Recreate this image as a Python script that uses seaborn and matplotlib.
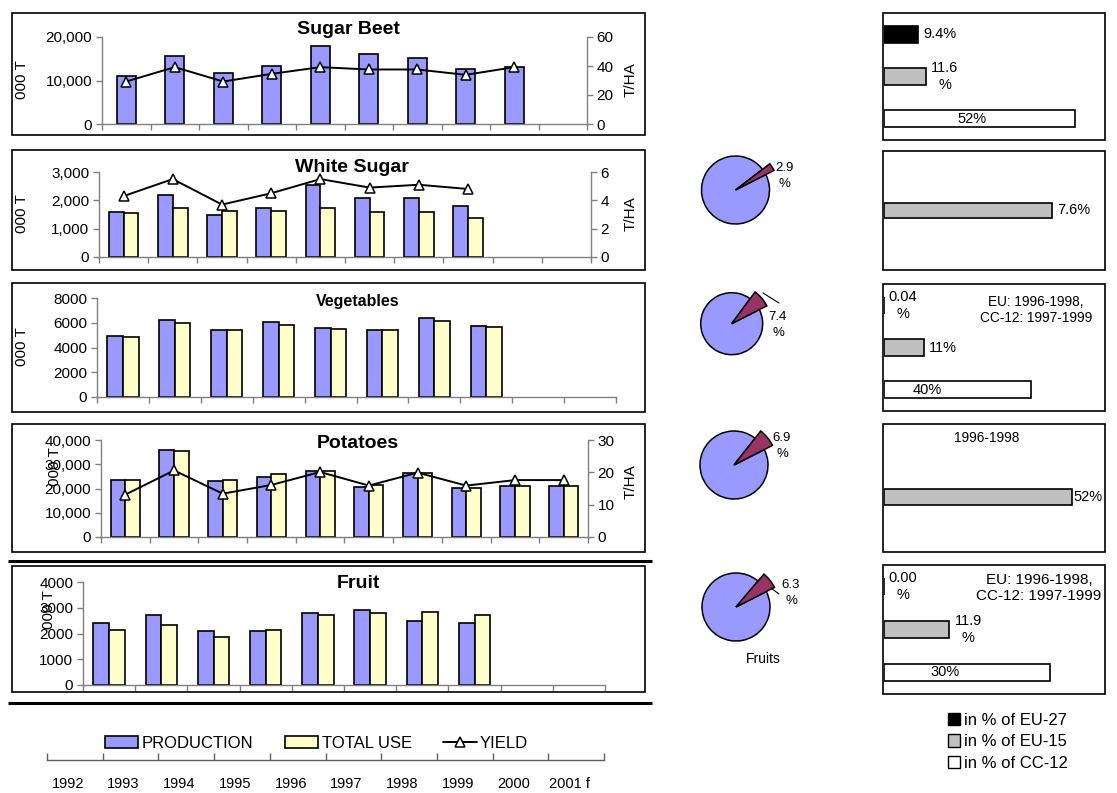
import numpy as np
import pandas as pd
import matplotlib
matplotlib.use("Agg")
import matplotlib.pyplot as plt
from matplotlib.patches import Patch, Rectangle
from matplotlib.lines import Line2D
from matplotlib.transforms import ScaledTranslation
import seaborn as sns

nan = np.nan

# ---- data -------------------------------------------------------------
years = ["1992", "1993", "1994", "1995", "1996", "1997", "1998", "1999", "2000", "2001 f"]

beet_production = [11100, 15700, 11700, 13300, 17900, 16000, 15200, 12600, 13200, nan]
beet_yield = [29.3, 39.2, 29.3, 34.6, 39.2, 37.6, 37.6, 33.9, 39.2, nan]

sugar_production = [1600, 2190, 1480, 1740, 2530, 2080, 2080, 1790, nan, nan]
sugar_total_use = [1540, 1740, 1640, 1640, 1720, 1580, 1580, 1360, nan, nan]
sugar_yield = [4.3, 5.5, 3.7, 4.5, 5.5, 4.9, 5.1, 4.8, nan, nan]

veg_production = [4900, 6250, 5450, 6050, 5550, 5400, 6400, 5750, nan, nan]
veg_total_use = [4850, 5950, 5450, 5850, 5500, 5450, 6150, 5650, nan, nan]

potato_production = [23500, 36000, 23100, 24800, 27100, 20800, 26200, 20100, 21200, 21200]
potato_total_use = [23500, 35300, 23500, 25800, 27100, 21500, 26200, 20100, 21200, 21200]
potato_yield = [13.1, 20.6, 13.4, 16.1, 20.1, 15.9, 19.9, 15.9, 17.6, 17.6]

fruit_production = [2400, 2720, 2100, 2100, 2800, 2900, 2500, 2400, nan, nan]
fruit_total_use = [2120, 2330, 1870, 2130, 2700, 2780, 2820, 2720, nan, nan]

# share of the country in world / group output (pies)
sugar_pie_share = 2.9
veg_pie_share = 7.4
potato_pie_share = 6.9
fruit_pie_share = 6.3

share_groups = ["in % of EU-27", "in % of EU-15", "in % of CC-12"]
beet_shares = [9.4, 11.6, 52]
sugar_shares = [nan, 7.6, nan]
veg_shares = [0.04, 11, 40]
potato_shares = [nan, 52, nan]
fruit_shares = [0.00, 11.9, 30]

# ---- style ------------------------------------------------------------
sns.set_theme(style="white")
plt.rcParams["font.family"] = ["Liberation Sans", "DejaVu Sans"]
plt.rcParams["text.color"] = "black"
plt.rcParams["axes.labelcolor"] = "black"
plt.rcParams["xtick.color"] = "black"
plt.rcParams["ytick.color"] = "black"

PROD_C = "#9999FF"
USE_C = "#FFFFCC"
SLICE_C = "#993366"
AXIS_C = "#808080"
SHARE_COLORS = dict(zip(share_groups, ["black", "#C0C0C0", "white"]))

W, H = 1117, 793
fig = plt.figure(figsize=(W / 100, H / 100), dpi=100)
fig.patch.set_facecolor("white")


def fx(x):
    return x / W


def fy(y):
    return 1 - y / H


def px_axes(x0, y0, x1, y1):
    return fig.add_axes([fx(x0), fy(y1), (x1 - x0) / W, (y1 - y0) / H])


def frame(x0, y0, x1, y1, lw=1.2):
    fig.add_artist(Rectangle((fx(x0), fy(y1)), (x1 - x0) / W, (y1 - y0) / H,
                             transform=fig.transFigure, fill=False,
                             edgecolor="black", linewidth=lw))


def ftext(x, y, s, **kw):
    kw.setdefault("ha", "center")
    kw.setdefault("va", "center")
    kw.setdefault("color", "black")
    fig.text(fx(x), fy(y), s, **kw)


def hline(x0, x1, y, lw):
    fig.add_artist(Line2D([fx(x0), fx(x1)], [fy(y), fy(y)], transform=fig.transFigure,
                          color="black", linewidth=lw, solid_capstyle="butt"))


def fmt_ticks(ticks, comma):
    return [f"{t:,}" if comma else f"{t}" for t in ticks]


def series_panel(rect, ylim, yticks, comma, production, total_use=None,
                 yields=None, y2lim=None, y2ticks=None):
    ax = px_axes(*rect)
    n = len(years)
    if total_use is None:
        df = pd.DataFrame({"year": years, "value": production})
        sns.barplot(data=df, x="year", y="value", order=years, color=PROD_C,
                    saturation=1, width=0.4, edgecolor="black", linewidth=1.2,
                    errorbar=None, ax=ax)
    else:
        df = pd.DataFrame({
            "year": years * 2,
            "series": ["PRODUCTION"] * n + ["TOTAL USE"] * n,
            "value": list(production) + list(total_use),
        })
        sns.barplot(data=df, x="year", y="value", hue="series", order=years,
                    hue_order=["PRODUCTION", "TOTAL USE"],
                    palette={"PRODUCTION": PROD_C, "TOTAL USE": USE_C},
                    saturation=1, width=0.6, edgecolor="black", linewidth=1.2,
                    errorbar=None, legend=False, ax=ax)
    ax.set_xlim(-0.5, n - 0.5)
    ax.set_ylim(*ylim)
    ax.set_xticks(np.arange(-0.5, n, 1.0))
    ax.set_xticklabels([])
    ax.set_yticks(yticks)
    ax.set_yticklabels(fmt_ticks(yticks, comma))
    ax.set_xlabel("")
    ax.set_ylabel("")
    for s in ["top", "right"]:
        ax.spines[s].set_visible(False)
    for s in ["left", "bottom"]:
        ax.spines[s].set_color(AXIS_C)
        ax.spines[s].set_linewidth(1.0)
    ax.tick_params(axis="x", direction="out", length=4, width=1, color=AXIS_C, bottom=True)
    ax.tick_params(axis="y", direction="out", length=4, width=1, color=AXIS_C,
                   labelsize=11, pad=3, labelcolor="black", left=True)
    ax.patch.set_alpha(0)
    if yields is not None:
        ax2 = ax.twinx()
        sns.lineplot(x=np.arange(n), y=yields, ax=ax2, color="black", linewidth=1.4,
                     marker="^", markersize=7, markerfacecolor="white",
                     markeredgecolor="black", markeredgewidth=1.1)
        ax2.set_xlim(-0.5, n - 0.5)
        ax2.set_ylim(*y2lim)
        ax2.set_yticks(y2ticks)
        ax2.set_yticklabels([str(t) for t in y2ticks])
        ax2.set_ylabel("")
        for s in ["top", "left", "bottom"]:
            ax2.spines[s].set_visible(False)
        ax2.spines["right"].set_color(AXIS_C)
        ax2.spines["right"].set_linewidth(1.0)
        ax2.tick_params(axis="y", direction="out", length=4, width=1, color=AXIS_C,
                        labelsize=11, pad=3, labelcolor="black", right=True)
    return ax


def pie_panel(cx, cy, r, share, label_xy, leader=None):
    half = 60
    ax = px_axes(cx - half, cy - half, cx + half, cy + half)
    wedges, _ = ax.pie([share, 100 - share], colors=[SLICE_C, PROD_C], startangle=27,
                       counterclock=True, radius=1,
                       wedgeprops=dict(edgecolor="black", linewidth=1.1))
    wedges[0].set_radius(1.27)
    wedges[0].set_zorder(3)
    lim = half / r
    ax.set_xlim(-lim, lim)
    ax.set_ylim(-lim, lim)
    ax.set_aspect("equal")
    ax.axis("off")
    ftext(label_xy[0], label_xy[1], f"{share:.1f}\n%", fontsize=9.5, linespacing=1.35)
    if leader is not None:
        (x0, y0), (x1, y1) = leader
        fig.add_artist(Line2D([fx(x0), fx(x1)], [fy(y0), fy(y1)], transform=fig.transFigure,
                              color="black", linewidth=0.8))


def share_panel(box, shares, fmts, xmax, ylim, inside_px=None, pad_px=5):
    x0, y0, x1, y1 = box
    frame(x0 - 0.5, y0, x1, y1)
    ax = px_axes(x0 + 0.5, y0, x1, y1)
    df = pd.DataFrame({"group": share_groups, "share": shares})
    sns.barplot(data=df, x="share", y="group", order=share_groups, hue="group",
                hue_order=share_groups, palette=SHARE_COLORS, saturation=1, width=0.4,
                edgecolor="black", linewidth=1.2, errorbar=None, legend=False,
                orient="h", ax=ax)
    ax.set_xlim(0, xmax)
    ax.set_ylim(*ylim)
    ax.axis("off")
    for i, (v, f) in enumerate(zip(shares, fmts)):
        if np.isnan(v):
            continue
        txt = f.format(v)
        if inside_px is not None and i == 2:
            ax.annotate(txt, xy=(0, i), xytext=(inside_px * 0.72, 0),
                        textcoords="offset points", ha="center", va="center",
                        fontsize=10.5, color="black")
        else:
            ax.annotate(txt, xy=(v, i), xytext=(pad_px * 0.72, 0),
                        textcoords="offset points", ha="left", va="center",
                        multialignment="center", fontsize=10.5, linespacing=1.25,
                        annotation_clip=False, color="black")
    return ax


# ---- left column: production / use / yield ----------------------------
frame(12, 13, 645, 135)
series_panel((102, 37, 587, 124), (0, 20000), [0, 10000, 20000], True,
             beet_production, yields=beet_yield, y2lim=(0, 60), y2ticks=[0, 20, 40, 60])
ftext(348, 30, "Sugar Beet", fontsize=14, fontweight="bold")
ftext(22, 80, "000 T", fontsize=11, rotation=90)
ftext(631, 80, "T/HA", fontsize=11, rotation=90)

frame(12, 150, 645, 270)
series_panel((99, 172, 591, 257), (0, 3000), [0, 1000, 2000, 3000], True,
             sugar_production, sugar_total_use, yields=sugar_yield,
             y2lim=(0, 6), y2ticks=[0, 2, 4, 6])
ftext(352, 167, "White Sugar", fontsize=14, fontweight="bold")
ftext(22, 214, "000 T", fontsize=11, rotation=90)
ftext(631, 214, "T/HA", fontsize=11, rotation=90)

frame(12, 283, 645, 412)
series_panel((97, 298, 616, 397), (0, 8000), [0, 2000, 4000, 6000, 8000], False,
             veg_production, veg_total_use)
ftext(358, 301, "Vegetables", fontsize=11.5, fontweight="bold")
ftext(22, 347, "000 T", fontsize=11, rotation=90)

frame(12, 424, 645, 552)
series_panel((101, 440, 588, 537), (0, 40000), [0, 10000, 20000, 30000, 40000], True,
             potato_production, potato_total_use, yields=potato_yield,
             y2lim=(0, 30), y2ticks=[0, 10, 20, 30])
ftext(358, 443, "Potatoes", fontsize=14, fontweight="bold")
ftext(55, 467, "000 T", fontsize=11, rotation=90)
ftext(631, 482, "T/HA", fontsize=11, rotation=90)

hline(8, 652, 561, 2.2)

frame(12, 566, 645, 692)
series_panel((83, 582, 605, 685), (0, 4000), [0, 1000, 2000, 3000, 4000], False,
             fruit_production, fruit_total_use)
ftext(358, 584, "Fruit", fontsize=14, fontweight="bold")
ftext(49, 610, "000 T", fontsize=11, rotation=90)

hline(8, 652, 703, 2.2)

# shared legend for the left column
fig.legend(handles=[Patch(facecolor=PROD_C, edgecolor="black", linewidth=1.2),
                    Patch(facecolor=USE_C, edgecolor="black", linewidth=1.2),
                    Line2D([], [], color="black", linewidth=1.4, marker="^", markersize=7,
                           markerfacecolor="white", markeredgecolor="black",
                           markeredgewidth=1.1)],
           labels=["PRODUCTION", "TOTAL USE", "YIELD"], ncol=3, loc="center left",
           bbox_to_anchor=(fx(105), fy(743)), frameon=False, fontsize=12,
           handlelength=2.0, handleheight=0.7, handletextpad=0.2, columnspacing=1.9,
           borderpad=0, borderaxespad=0)

# shared year axis
axy = px_axes(47, 730, 604, 760)
axy.set_xlim(-0.5, len(years) - 0.5)
axy.set_ylim(0, 1)
for s in ["top", "left", "right"]:
    axy.spines[s].set_visible(False)
axy.spines["bottom"].set_color("#606060")
axy.spines["bottom"].set_linewidth(1.0)
axy.set_yticks([])
axy.set_xticks(np.arange(-0.5, len(years), 1.0))
axy.set_xticklabels([])
axy.set_xticks(np.arange(len(years)), minor=True)
axy.set_xticklabels(years, minor=True)
axy.tick_params(axis="x", which="major", direction="in", length=5, width=1, color="#606060", bottom=True)
axy.tick_params(axis="x", which="minor", length=0, labelsize=10.5, pad=12, bottom=True,
                labelcolor="black")
axy.patch.set_alpha(0)
for lbl in axy.get_xticklabels(minor=True):
    lbl.set_transform(lbl.get_transform() + ScaledTranslation(-0.07, 0, fig.dpi_scale_trans))

# ---- middle column: pies ---------------------------------------------
pie_panel(735.5, 190, 34, sugar_pie_share, (784, 176))
pie_panel(731.7, 323.7, 31, veg_pie_share, (778, 325), leader=((763, 293), (779, 303)))
pie_panel(734, 465, 34, potato_pie_share, (782, 446))
pie_panel(736, 607, 34, fruit_pie_share, (791, 593), leader=((771, 588), (779, 594)))
ftext(763, 659, "Fruits", fontsize=10)

# ---- right column: shares --------------------------------------------
share_panel((883, 13, 1105, 140), beet_shares, ["{:.1f}%", "{:.1f}\n%", "{:.0f}%"],
            60, (2.5, -0.5), inside_px=89)
share_panel((883, 151, 1105, 270), sugar_shares, ["{:.1f}%", "{:.1f}%", "{:.0f}%"],
            10, (2.5, -0.5))
share_panel((883, 284, 1105, 411), veg_shares, ["{:.2f}\n%", "{:.0f}%", "{:.0f}%"],
            60, (2.5, -0.5), inside_px=44)
ftext(1036, 310, "EU: 1996-1998,\nCC-12: 1997-1999", fontsize=9.8, linespacing=1.25)
share_panel((883, 424, 1105, 552), potato_shares, ["{:.0f}%", "{:.0f}%", "{:.0f}%"],
            61, (2.30, -0.726), pad_px=1)
ftext(987, 438, "1996-1998", fontsize=9.8)
share_panel((883, 565, 1105, 694), fruit_shares, ["{:.2f}\n%", "{:.1f}\n%", "{:.0f}%"],
            40, (2.5, -0.5), inside_px=62)
ftext(1039, 588, "EU: 1996-1998,\nCC-12: 1997-1999", fontsize=11, linespacing=1.2)

fig.legend(handles=[Patch(facecolor=SHARE_COLORS[g], edgecolor="black", linewidth=1.0)
                    for g in share_groups],
           labels=share_groups, loc="upper left", bbox_to_anchor=(fx(948), fy(713)),
           frameon=False, fontsize=12, handlelength=0.75, handleheight=0.75,
           handletextpad=0.2, labelspacing=0.38, borderpad=0, borderaxespad=0)

# headings running off the top edge
for x, s in [(690, "("), (838, ")"), (898, "("), (1047, ")")]:
    fig.text(fx(x), 1 + 3.5 / H, s, fontsize=14, ha="center", va="baseline", color="black")

fig.savefig("out.png", dpi=100, facecolor="white")
